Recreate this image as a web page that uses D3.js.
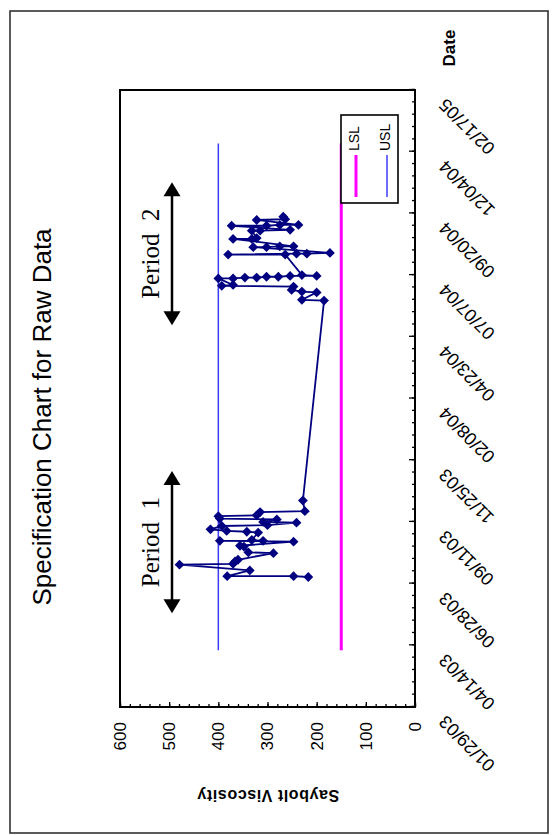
<!DOCTYPE html>
<html><head><meta charset="utf-8">
<script src="https://cdn.jsdelivr.net/npm/d3@7"></script>
<style>body{margin:0;background:#fff} svg{display:block;font-family:"Liberation Sans",Arial,sans-serif}</style>
</head><body>
<svg id="c" width="555" height="835"></svg>
<script>
// ---------- data ----------
const valueTicks = [0, 100, 200, 300, 400, 500, 600];
const dateTickLabels = ["01/29/03","04/14/03","06/28/03","09/11/03","11/25/03","02/08/04","04/23/04","07/07/04","09/20/04","12/04/04","02/17/05"];
const obsDates = [
 "07/06/03","07/07/03","07/07/03","07/14/03","07/21/03","07/22/03","07/25/03","07/27/03","08/04/03","08/05/03",
 "08/12/03","08/13/03","08/18/03","08/19/03","08/19/03","08/20/03","08/29/03","08/30/03","08/31/03","09/02/03",
 "09/06/03","09/07/03","09/10/03","09/11/03","09/14/03","09/15/03","09/18/03","09/19/03","09/23/03","09/24/03",
 "10/07/03",
 "06/06/04","06/07/04","06/16/04","06/17/04","06/19/04","06/23/04","06/24/04","06/25/04","07/03/04","07/03/04",
 "07/04/04","07/04/04","07/05/04","07/05/04","07/06/04","07/06/04","07/07/04","08/01/04","08/01/04","08/02/04",
 "08/02/04","08/03/04","08/10/04","08/10/04","08/11/04","08/11/04","08/20/04","08/20/04","08/21/04","08/30/04",
 "08/30/04","08/31/04","09/05/04","09/05/04","09/06/04","09/06/04","09/12/04","09/13/04","09/16/04"
];
const obsValues = [
 217,247,382,336,479,370,366,360,288,339,
 348,356,247,397,309,332,319,342,383,416,
 393,300,241,309,281,397,400,322,315,224,
 228,
 185,230,200,230,251,247,393,370,400,370,
 346,322,302,278,254,200,230,264,380,241,
 220,173,329,302,275,247,370,332,322,332,
 315,254,373,302,275,237,322,264,268
];
const specDates = ["04/08/03", "12/14/04"];
const lslValue = 150;
const uslValue = 400;
const periodLabels = ["Period  1", "Period  2"];
const periodStart = ["05/23/03", "05/07/04"];
const periodEnd = ["11/12/03", "10/28/04"];
const chartTitle = "Specification Chart for Raw Data";
const valueTitle = "Saybolt Viscosity";
const dateTitle = "Date";

// ---------- layout (original landscape frame, rotated onto the page) ----------
const parse = d3.timeParse("%m/%d/%y");
const W = 835, H = 555;
const plot = {left: 128, right: 745, top: 120, bottom: 415};
const svg = d3.select("#c");
const root = svg.append("g").attr("transform", `translate(0,${W}) rotate(-90)`);

const tMin = parse(dateTickLabels[0]), tMax = parse(dateTickLabels[dateTickLabels.length - 1]);
const x = d3.scaleTime().domain([tMin, tMax]).range([plot.left, plot.right]);
const y = d3.scaleLinear().domain([0, 600]).range([plot.bottom, plot.top]);

// outer frame
root.append("rect").attr("x", 2).attr("y", 10).attr("width", 822).attr("height", 538)
  .attr("fill", "#fff").attr("stroke", "#333").attr("stroke-width", 1.6);

// title
root.append("text").attr("x", 418).attr("y", 51).attr("text-anchor", "middle")
  .attr("font-size", 26).attr("fill", "#000").text(chartTitle);

// value axis
const minorV = d3.range(0, 601, 20);
root.append("g").attr("transform", `translate(${plot.left},0)`)
  .call(d3.axisLeft(y).tickValues(minorV).tickSize(-3).tickFormat(""))
  .call(g => g.select(".domain").remove())
  .call(g => g.selectAll("line").attr("stroke", "#000").attr("stroke-width", 1.3));
root.append("g").attr("transform", `translate(${plot.left},0)`)
  .call(d3.axisLeft(y).tickValues(valueTicks).tickSize(-5).tickPadding(15).tickFormat(d3.format("d")))
  .call(g => g.select(".domain").remove())
  .call(g => g.selectAll("line").attr("stroke", "#000").attr("stroke-width", 1.3))
  .call(g => g.selectAll("text").attr("font-size", 17).attr("fill", "#000")
      .attr("font-family", '"Liberation Sans",Arial,sans-serif'));

// date axis
const minorT = d3.range(0, 751, 15).map(d => d3.timeDay.offset(tMin, d));
const majorT = dateTickLabels.map(parse);
root.append("g").attr("transform", `translate(0,${plot.bottom})`)
  .call(d3.axisBottom(x).tickValues(minorT).tickSize(-3).tickFormat(""))
  .call(g => g.select(".domain").remove())
  .call(g => g.selectAll("line").attr("stroke", "#000").attr("stroke-width", 1.3));
root.append("g").attr("transform", `translate(0,${plot.bottom})`)
  .call(d3.axisBottom(x).tickValues(majorT).tickSize(-6).tickFormat(""))
  .call(g => g.select(".domain").remove())
  .call(g => g.selectAll("line").attr("stroke", "#000").attr("stroke-width", 1.3));
root.append("g").selectAll("text").data(dateTickLabels).join("text")
  .attr("transform", d => `translate(${x(parse(d)) - 12},442) rotate(-45)`)
  .attr("text-anchor", "end").attr("dy", "0.35em")
  .attr("font-size", 18).attr("fill", "#000").text(d => d);

// axis titles
root.append("text").attr("transform", "translate(45,268) rotate(-90)")
  .attr("text-anchor", "middle").attr("font-size", 16).attr("font-weight", "bold")
  .attr("letter-spacing", "0.6px").text(valueTitle);
root.append("text").attr("x", 787).attr("y", 455).attr("text-anchor", "middle")
  .attr("font-size", 17).attr("font-weight", "bold").text(dateTitle);

// plot frame
root.append("rect").attr("x", plot.left).attr("y", plot.top)
  .attr("width", plot.right - plot.left).attr("height", plot.bottom - plot.top)
  .attr("fill", "none").attr("stroke", "#000").attr("stroke-width", 2);

// spec limits
const sd = specDates.map(parse);
const specLine = d3.line().x(d => x(d[0])).y(d => y(d[1]));
root.append("path").attr("d", specLine(sd.map(d => [d, uslValue])))
  .attr("fill", "none").attr("stroke", "#3b3bff").attr("stroke-width", 1.5);
root.append("path").attr("d", specLine(sd.map(d => [d, lslValue])))
  .attr("fill", "none").attr("stroke", "#ff00ff").attr("stroke-width", 3);

// observations
const obs = obsDates.map((d, i) => [parse(d), obsValues[i]]);
root.append("path").attr("d", specLine(obs))
  .attr("fill", "none").attr("stroke", "#000080").attr("stroke-width", 1.8);
const diamond = d3.symbol().type(d3.symbolSquare).size(48);
root.append("g").selectAll("path").data(obs).join("path")
  .attr("transform", d => `translate(${x(d[0])},${y(d[1])}) rotate(45)`)
  .attr("d", diamond).attr("fill", "#000080");

// legend
const lg = root.append("g");
lg.append("rect").attr("x", 632).attr("y", 341).attr("width", 88).attr("height", 57)
  .attr("fill", "#fff").attr("stroke", "#000").attr("stroke-width", 1.6);
const legendItems = [["LSL", "#ff00ff", 3], ["USL", "#3b3bff", 1.5]];
legendItems.forEach((it, i) => {
  const yy = 354 + i * 31;
  lg.append("line").attr("x1", 638).attr("x2", 680).attr("y1", yy + 2).attr("y2", yy + 2)
    .attr("stroke", it[1]).attr("stroke-width", it[2]);
  lg.append("text").attr("x", 684).attr("y", yy).attr("dy", "0.35em")
    .attr("font-size", 14).text(it[0]);
});

// period annotations
const arrowY = 172;
periodLabels.forEach((lab, i) => {
  const x0 = x(parse(periodStart[i])), x1 = x(parse(periodEnd[i]));
  const g = root.append("g");
  g.append("line").attr("x1", x0 + 12).attr("x2", x1 - 12).attr("y1", arrowY).attr("y2", arrowY)
    .attr("stroke", "#000").attr("stroke-width", 2.5);
  g.append("path").attr("d", `M${x0},${arrowY} L${x0 + 14},${arrowY - 8.5} L${x0 + 14},${arrowY + 8.5}Z`);
  g.append("path").attr("d", `M${x1},${arrowY} L${x1 - 14},${arrowY - 8.5} L${x1 - 14},${arrowY + 8.5}Z`);
  g.append("text").attr("x", (x0 + x1) / 2).attr("y", 159).attr("text-anchor", "middle")
    .attr("font-family", '"Liberation Serif","Times New Roman",serif').attr("font-size", 25)
    .style("white-space", "pre").text(lab);
});
</script>
</body></html>
